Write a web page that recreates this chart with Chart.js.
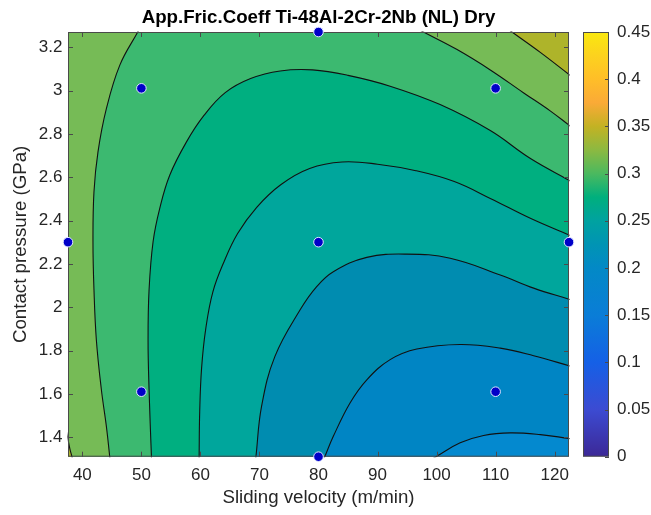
<!DOCTYPE html>
<html><head><meta charset="utf-8">
<script src="https://cdn.jsdelivr.net/npm/chart.js@4.4.1/dist/chart.umd.min.js"></script>
<style>
html,body{margin:0;padding:0;background:#fff;}
#wrap{position:relative;width:651px;height:515px;overflow:hidden;}
#main{position:absolute;left:0;top:0;}
#cbar{position:absolute;left:560px;top:0;}
</style></head><body>
<div id="wrap"><canvas id="main" width="651" height="515"></canvas><canvas id="cbar" width="91" height="515"></canvas></div>
<script>
// ---------- data ----------
const titleText = 'App.Fric.Coeff Ti-48Al-2Cr-2Nb (NL) Dry';
const xTitle = 'Sliding velocity (m/min)';
const yTitle = 'Contact pressure (GPa)';
const xMin = 37.57, xMax = 122.43, yMin = 1.31, yMax = 3.27;
const xTicks = [40, 50, 60, 70, 80, 90, 100, 110, 120];
const yTicks = [1.4, 1.6, 1.8, 2, 2.2, 2.4, 2.6, 2.8, 3, 3.2];
const cbTicks = [0, 0.05, 0.1, 0.15, 0.2, 0.25, 0.3, 0.35, 0.4, 0.45];
const cbMin = 0, cbMax = 0.45;

// experimental design points
const ptVelocity = [37.57, 50, 50, 80, 80, 80, 110, 110, 122.43];
const ptPressure = [2.3, 3.01, 1.61, 3.27, 2.3, 1.31, 3.01, 1.61, 2.3];

// contour levels and band colours (band below first level, then above each level)
const levels = [0.20, 0.22, 0.24, 0.26, 0.28, 0.30, 0.32];
const bandColors = ['#0489cf', '#0085c4', '#008cb0', '#00a69c', '#00af80', '#3cb970', '#76bb56', '#aeb42a'];

// contour lines (velocity, pressure), first/last two points lie just outside the axes
const lvl020x = [95.98, 98.0, 100.05, 104.0, 107.96, 112.49, 117.58, 122.43, 125.5, 128.5];
const lvl020y = [1.248, 1.28, 1.312, 1.374, 1.408, 1.420, 1.412, 1.394, 1.383, 1.372];
const lvl022x = [79.68, 80.39, 81.10, 82.51, 85.34, 88.18, 92.13, 96.66, 104.0, 110.79, 116.44, 122.43, 125.5, 128.5];
const lvl022y = [1.22, 1.266, 1.312, 1.404, 1.558, 1.665, 1.758, 1.807, 1.828, 1.811, 1.776, 1.730, 1.706, 1.683];
const lvl024x = [69.03, 69.22, 69.41, 70.36, 72.62, 76.89, 79.69, 82.51, 88.18, 94.96, 102.31, 110.79, 116.44, 122.43, 125.5, 128.5];
const lvl024y = [1.22, 1.266, 1.312, 1.543, 1.773, 1.988, 2.095, 2.164, 2.230, 2.245, 2.226, 2.149, 2.088, 2.037, 2.011, 1.985];
const lvl026x = [59.76, 59.77, 59.78, 59.88, 60.2, 60.9, 62.1, 64.0, 66.3, 69.5, 73.6, 78.5, 84.0, 90.0, 96.5, 103.0, 109.1, 115.88, 122.43, 125.5, 128.5];
const lvl026y = [1.21, 1.26, 1.312, 1.52, 1.72, 1.9, 2.07, 2.21, 2.34, 2.46, 2.565, 2.64, 2.67, 2.66, 2.63, 2.58, 2.502, 2.410, 2.333, 2.297, 2.262];
const lvl028x = [51.84, 51.77, 51.70, 51.30, 51.13, 51.30, 51.98, 53.11, 54.80, 57.64, 60.6, 64.2, 68.5, 73.5, 79.0, 85.0, 92.13, 100.6, 109.1, 115.9, 122.43, 125.5, 128.5];
const lvl028y = [1.21, 1.26, 1.312, 1.619, 1.850, 2.080, 2.302, 2.456, 2.609, 2.763, 2.885, 2.99, 3.055, 3.09, 3.095, 3.07, 3.02, 2.935, 2.815, 2.686, 2.586, 2.539, 2.493];
const lvl030Lx = [45.01, 44.82, 44.63, 44.07, 43.22, 42.37, 41.97, 41.80, 41.97, 42.65, 44.07, 46.33, 49.38, 50.9, 52.4];
const lvl030Ly = [1.212, 1.262, 1.312, 1.450, 1.620, 1.850, 2.080, 2.302, 2.533, 2.717, 2.916, 3.116, 3.27, 3.347, 3.424];
const lvl030Rx = [92.2, 95.0, 97.78, 103.4, 109.1, 114.7, 119.3, 122.43, 125.5, 128.5];
const lvl030Ry = [3.35, 3.31, 3.27, 3.19, 3.095, 2.99, 2.905, 2.84, 2.776, 2.714];
const lvl032Rx = [108.0, 110.4, 112.77, 117.57, 122.43, 125.5, 128.5];
const lvl032Ry = [3.363, 3.316, 3.27, 3.176, 3.074, 3.01, 2.947];
const lvl032Lx = [36.8, 37.2, 37.57, 37.9, 38.24, 38.5, 38.8];
const lvl032Ly = [1.49, 1.44, 1.39, 1.345, 1.31, 1.27, 1.23];

// colour bar stops (value, colour)
const cbStops = [0, 0.05, 0.1, 0.15, 0.2, 0.225, 0.25, 0.275, 0.3, 0.325, 0.35, 0.375, 0.4, 0.425, 0.45];
const cbColors = ['#3c2896', '#3c4bd2', '#1560e6', '#0a7dd7', '#0389c6', '#0094b4', '#00a2a0', '#00af7d', '#4bb95f', '#8cb941', '#c3b223', '#faaa37', '#ffbe28', '#fcd21e', '#fae80f'];

// frame far outside the axes used to close the filled regions
const outX0 = 25, outX1 = 135, outY0 = 1.0, outY1 = 3.6;

// ---------- build datasets ----------
const FONT = 'Liberation Sans, Arial, Helvetica, sans-serif';
Chart.defaults.font.family = FONT;
const pts = (xs, ys) => xs.map((x, i) => ({x, y: ys[i]}));

const lineSets = [
  [lvl020x, lvl020y], [lvl022x, lvl022y], [lvl024x, lvl024y], [lvl026x, lvl026y], [lvl028x, lvl028y],
  [lvl030Lx, lvl030Ly], [lvl030Rx, lvl030Ry], [lvl032Rx, lvl032Ry], [lvl032Lx, lvl032Ly]
];

function poly(layer, data, tension) {
  return {
    polygon: true, layer, fillColor: bandColors[layer], data,
    borderWidth: 0, borderColor: 'rgba(0,0,0,0)', pointRadius: 0, tension,
    capBezierPoints: false, fill: false, order: 2
  };
}
const lowerRight = (lx, ly) => [{x: outX1, y: outY1}, {x: outX0, y: outY1}, {x: outX0, y: outY0}, {x: lx[0], y: outY0}].concat(pts(lx, ly));

const datasets = [];
datasets.push({
  data: pts(ptVelocity, ptPressure), showLine: false, pointRadius: 4.8, pointBorderWidth: 1,
  pointBackgroundColor: '#0000c8', pointBorderColor: '#dfe6ff', clip: false, order: 0
});
lineSets.forEach(([lx, ly]) => datasets.push({
  data: pts(lx, ly), borderColor: '#111', borderWidth: 1.1, pointRadius: 0, tension: 0.4,
  capBezierPoints: false, fill: false, order: 1
}));
datasets.push(poly(0, [{x: outX1, y: outY1}, {x: outX0, y: outY1}, {x: outX0, y: outY0}, {x: outX1, y: outY0}], 0));
datasets.push(poly(1, lowerRight(lvl020x, lvl020y), 0.4));
datasets.push(poly(2, lowerRight(lvl022x, lvl022y), 0.4));
datasets.push(poly(3, lowerRight(lvl024x, lvl024y), 0.4));
datasets.push(poly(4, lowerRight(lvl026x, lvl026y), 0.4));
datasets.push(poly(5, lowerRight(lvl028x, lvl028y), 0.4));
datasets.push(poly(6, [{x: outX0, y: outY1}, {x: outX0, y: outY0}, {x: lvl030Lx[0], y: outY0}].concat(pts(lvl030Lx, lvl030Ly)), 0.4));
datasets.push(poly(6, [{x: outX1, y: outY1}, {x: lvl030Rx[0], y: outY1}].concat(pts(lvl030Rx, lvl030Ry), [{x: outX1, y: 2.6}]), 0.4));
datasets.push(poly(7, [{x: outX1, y: outY1}, {x: lvl032Rx[0], y: outY1}].concat(pts(lvl032Rx, lvl032Ry), [{x: outX1, y: 2.9}]), 0.4));
datasets.push(poly(7, [{x: lvl032Lx[6], y: outY0}, {x: outX0, y: outY0}, {x: outX0, y: lvl032Ly[0]}].concat(pts(lvl032Lx, lvl032Ly)), 0.4));

// ---------- plugins ----------
const contourFill = {
  id: 'contourFill',
  beforeDatasetsDraw(chart) {
    const ctx = chart.ctx, a = chart.chartArea, ds = chart.data.datasets;
    ctx.save();
    ctx.beginPath();
    ctx.rect(a.left, a.top, a.right - a.left, a.bottom - a.top);
    ctx.clip();
    ds.map((d, i) => i).filter(i => ds[i].polygon)
      .sort((i, j) => ds[i].layer - ds[j].layer)
      .forEach(i => {
        const el = chart.getDatasetMeta(i).dataset;
        el.updateControlPoints(a, 'x');
        ctx.beginPath();
        el.path(ctx);
        ctx.closePath();
        ctx.fillStyle = ds[i].fillColor;
        ctx.fill();
      });
    ctx.restore();
  }
};
const axesBox = {
  id: 'axesBox',
  beforeDatasetDraw(chart, args) {
    if (args.index !== 0) return;
    const ctx = chart.ctx, a = chart.chartArea, xs = chart.scales.x, ys = chart.scales.y;
    ctx.save();
    ctx.strokeStyle = '#4a4a4a';
    ctx.lineWidth = 1;
    ctx.strokeRect(a.left + 0.5, a.top + 0.5, a.right - a.left - 1, a.bottom - a.top - 1);
    ctx.beginPath();
    const tl = 5;
    xTicks.forEach(v => {
      const p = Math.round(xs.getPixelForValue(v)) + 0.5;
      ctx.moveTo(p, a.bottom); ctx.lineTo(p, a.bottom - tl);
      ctx.moveTo(p, a.top); ctx.lineTo(p, a.top + tl);
    });
    yTicks.forEach(v => {
      const p = Math.round(ys.getPixelForValue(v)) + 0.5;
      ctx.moveTo(a.left, p); ctx.lineTo(a.left + tl, p);
      ctx.moveTo(a.right, p); ctx.lineTo(a.right - tl, p);
    });
    ctx.stroke();
    ctx.restore();
  }
};

const tickFont = {family: FONT, size: 17};
const labFont = {family: FONT, size: 18.7};
const TXT = '#262626';

new Chart(document.getElementById('main'), {
  type: 'line',
  data: {datasets},
  plugins: [contourFill, axesBox],
  options: {
    responsive: false, animation: false, events: [],
    layout: {padding: {left: 0, right: 82, top: 0, bottom: 0}},
    plugins: {
      legend: {display: false}, tooltip: {enabled: false},
      title: {display: true, text: titleText, fullSize: false, color: '#000',
        font: {family: FONT, size: 18.7, weight: 'bold'}, padding: {top: 7, bottom: 2.56}}
    },
    scales: {
      x: {
        type: 'linear', bounds: 'data',
        afterDataLimits: s => { s.min = xMin; s.max = xMax; },
        afterBuildTicks: s => { s.ticks = xTicks.map(v => ({value: v})); },
        afterFit: s => { s.height = 58.3; },
        grid: {drawOnChartArea: false, drawTicks: false}, border: {display: false},
        ticks: {padding: 8, font: tickFont, color: TXT, maxRotation: 0, autoSkip: false, callback: v => String(v)},
        title: {display: true, text: xTitle, font: labFont, color: TXT, padding: {top: 0, bottom: 6}}
      },
      y: {
        type: 'linear', bounds: 'data',
        afterDataLimits: s => { s.min = yMin; s.max = yMax; },
        afterBuildTicks: s => { s.ticks = yTicks.map(v => ({value: v})); },
        afterFit: s => { s.width = 68; },
        grid: {drawOnChartArea: false, drawTicks: false}, border: {display: false},
        ticks: {padding: 5.5, font: tickFont, color: TXT, autoSkip: false, callback: v => String(Math.round(v * 10) / 10)},
        title: {display: true, text: yTitle, font: labFont, color: TXT, padding: {top: 10, bottom: 0}}
      }
    }
  }
});

// ---------- colour bar ----------
const cbBox = {
  id: 'cbBox',
  afterDatasetsDraw(chart) {
    const ctx = chart.ctx, a = chart.chartArea, ys = chart.scales.y;
    ctx.save();
    ctx.strokeStyle = '#4a4a4a';
    ctx.lineWidth = 1;
    ctx.strokeRect(a.left + 0.5, a.top + 0.5, a.right - a.left - 1, a.bottom - a.top - 1);
    ctx.beginPath();
    cbTicks.forEach(v => {
      const p = Math.round(ys.getPixelForValue(v)) + 0.5;
      ctx.moveTo(a.right, p); ctx.lineTo(a.right - 4, p);
    });
    ctx.stroke();
    ctx.restore();
  }
};
new Chart(document.getElementById('cbar'), {
  type: 'bar',
  data: {
    labels: ['c'],
    datasets: [{
      data: [[cbMin, cbMax]], borderWidth: 0, barPercentage: 1, categoryPercentage: 1,
      backgroundColor: c => {
        const ch = c.chart;
        if (!ch.chartArea) return '#888';
        const ys = ch.scales.y;
        const g = ch.ctx.createLinearGradient(0, ys.getPixelForValue(cbMin), 0, ys.getPixelForValue(cbMax));
        cbStops.forEach((v, i) => g.addColorStop((v - cbMin) / (cbMax - cbMin), cbColors[i]));
        return g;
      }
    }]
  },
  plugins: [cbBox],
  options: {
    responsive: false, animation: false, events: [],
    layout: {padding: {left: 23, right: 0, top: 32, bottom: 58.3}},
    plugins: {legend: {display: false}, tooltip: {enabled: false}},
    scales: {
      x: {display: false},
      y: {
        position: 'right', min: cbMin, max: cbMax,
        afterBuildTicks: s => { s.ticks = cbTicks.map(v => ({value: v})); },
        afterFit: s => { s.width = 42; },
        grid: {drawOnChartArea: false, drawTicks: false}, border: {display: false},
        ticks: {padding: 8, font: tickFont, color: TXT, autoSkip: false, callback: v => String(Math.round(v * 100) / 100)}
      }
    }
  }
});
</script></body></html>
